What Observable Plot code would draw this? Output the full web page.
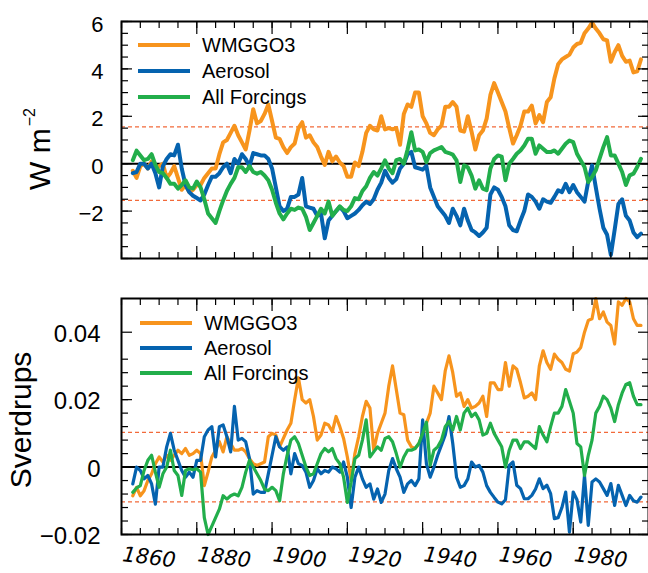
<!DOCTYPE html>
<html>
<head>
<meta charset="utf-8">
<script src="https://cdn.jsdelivr.net/npm/d3@7"></script>
<script src="https://cdn.jsdelivr.net/npm/@observablehq/plot@0.6"></script>
<style>
  body { margin: 0; background: #fff; font-family: "Liberation Sans", Arial, Helvetica, sans-serif; }
  #wrap { position: relative; width: 648px; height: 573px; overflow: hidden; }
  #wrap svg { display: block; }
  .row { position: absolute; display: flex; align-items: center; white-space: nowrap; font-size: 20px; color: #000; height: 26px; }
  .swatch { width: 52px; height: 4px; }
  .ylab { position: absolute; font-size: 30px; line-height: 1; white-space: nowrap; transform: translate(-50%, -50%) rotate(-90deg); color: #000; }
  .ylab sup { font-size: 16px; position: relative; top: -0.2em; vertical-align: top; margin-left: 2px; }
</style>
</head>
<body>
<div id="wrap"></div>
<script>
// ---------- data ----------
const years = d3.range(1853, 1989);
const seriesNames = ["WMGGO3", "Aerosol", "All Forcings"];
const seriesColors = ["#F7941D", "#0563AF", "#22AE4B"];

// Top panel: W m^-2
const topWMGGO3 = [
  -0.3,-0.6,-0.1,0.0,-0.2,0.1,-0.3,
  -0.1,0.0,-0.6,-0.4,-0.1,-0.6,-1.1,-0.9,-1.2,-1.1,
  -0.9,-0.9,-0.6,-0.4,-0.2,-0.2,0.4,0.9,1.0,1.3,
  1.6,1.2,0.9,0.6,1.4,2.3,1.7,1.8,2.1,2.5,
  1.8,1.1,1.05,0.7,0.45,0.7,0.85,1.5,1.75,1.1,
  1.2,0.9,0.7,0.3,-0.05,0.5,0.1,0.3,0.05,-0.1,
  -0.55,-0.55,0.05,-0.1,0.5,1.3,1.6,1.45,1.4,2.0,
  1.45,1.5,1.45,1.5,0.8,2.1,2.5,2.4,3.0,3.0,
  2.0,1.7,1.3,1.2,1.45,1.6,2.4,2.4,2.6,2.4,
  1.4,1.35,2.0,1.35,0.6,1.2,1.4,1.9,2.9,3.4,
  3.0,2.6,2.2,1.5,0.85,1.2,1.6,2.2,2.2,2.45,
  1.7,2.05,1.75,2.6,2.8,3.6,4.2,4.4,4.5,4.6,
  4.9,5.05,5.1,5.5,5.7,5.95,5.7,5.5,5.25,5.2,
  4.3,4.7,5.0,4.55,4.3,4.35,3.85,3.9,4.4
];
const topAerosol = [
  -0.4,-0.35,0.0,0.0,-0.2,0.0,-0.4,
  -1.0,-0.1,0.2,0.4,0.35,0.8,-0.2,-0.9,-1.2,-1.35,
  -1.45,-1.55,-1.3,-0.9,-0.55,-0.55,-0.4,-0.15,0.0,-0.4,
  0.2,0.0,0.4,0.2,-0.1,0.45,0.4,0.35,0.35,0.2,
  -0.2,-1.0,-1.8,-2.0,-1.9,-1.4,-1.4,-1.3,-0.6,-1.8,
  -1.85,-1.9,-2.2,-2.1,-3.15,-2.4,-2.2,-2.0,-1.82,-2.0,
  -2.3,-2.2,-2.1,-1.95,-1.75,-1.6,-1.7,-1.5,-1.1,-0.8,
  -0.3,-0.6,-0.8,-0.65,-0.2,0.0,0.4,0.5,-0.15,-0.2,
  -0.25,-0.1,-1.0,-1.4,-1.8,-2.0,-2.2,-2.5,-1.9,-2.2,
  -2.6,-1.9,-2.4,-2.8,-2.9,-3.05,-2.9,-2.7,-1.3,-1.0,
  -1.1,-1.4,-1.8,-2.6,-2.8,-2.85,-2.4,-2.0,-1.3,-1.4,
  -1.6,-1.9,-1.5,-1.6,-1.65,-1.4,-1.12,-1.2,-0.85,-1.2,
  -0.9,-1.2,-1.4,-1.6,-0.75,-0.07,-1.0,-1.9,-2.7,-3.0,
  -3.85,-2.8,-1.7,-1.5,-2.2,-2.4,-2.9,-3.1,-2.95
];
const topAllForcings = [
  0.15,0.55,0.35,0.15,0.2,0.4,-0.05,
  -0.35,-0.4,-0.6,-0.85,-0.85,-1.05,-0.9,-0.7,-1.0,-1.05,
  -0.75,-1.0,-1.5,-2.1,-2.3,-2.5,-2.0,-1.55,-1.15,-0.85,
  -0.6,-0.15,-0.15,-0.35,-0.1,-0.35,-0.42,-0.35,-0.5,-0.7,
  -1.1,-1.65,-2.1,-2.35,-2.1,-1.9,-1.95,-1.85,-1.9,-2.24,
  -2.8,-2.5,-2.2,-1.9,-2.1,-1.6,-2.2,-2.0,-1.8,-1.95,
  -2.0,-1.8,-1.45,-1.5,-1.15,-0.95,-0.6,-0.35,-0.5,-0.2,
  0.14,-0.2,-0.4,0.15,0.2,0.0,0.6,1.33,0.56,0.6,
  0.5,0.07,0.45,0.56,0.63,0.7,0.5,0.45,0.38,0.14,
  -0.77,-0.07,-0.15,-0.5,-1.05,-0.7,-1.05,-1.12,-0.2,0.2,
  0.35,0.3,-0.7,0.0,0.2,0.42,0.56,0.77,1.05,1.05,
  0.42,0.77,0.63,0.49,0.49,0.56,0.42,0.63,0.84,0.98,
  0.91,0.42,0.14,-0.14,-0.77,-0.56,-0.28,0.21,0.7,1.12,
  0.35,0.35,0.0,-0.35,-0.9,-0.49,-0.42,-0.14,0.21
];

// Bottom panel: Sverdrups
const botWMGGO3 = [
  -0.0085,-0.006,-0.0085,-0.007,-0.004,-0.002,0.001,
  0.003,0.0015,0.0035,0.002,0.0035,0.005,0.004,0.0055,0.0035,0.004,
  0.005,0.004,-0.0055,-0.0015,0.003,0.005,0.0075,0.0045,0.009,0.007,
  0.005,0.005,0.0055,0.0045,0.0025,0.001,0.0005,0.001,0.0015,0.009,
  0.010,0.0095,0.006,0.0085,0.011,0.013,0.020,0.0265,0.020,0.019,
  0.020,0.015,0.008,0.0095,0.013,0.0125,0.0105,0.015,0.012,0.0085,
  0.003,-0.004,0.004,0.009,0.015,0.0195,0.0175,0.005,0.010,0.013,
  0.016,0.024,0.030,0.023,0.016,0.0155,0.008,0.006,0.0055,0.007,
  0.010,0.013,0.016,0.024,0.022,0.020,0.0285,0.033,0.028,0.021,
  0.022,0.018,0.020,0.0175,0.018,0.019,0.021,0.015,0.025,0.025,
  0.023,0.023,0.031,0.024,0.030,0.029,0.025,0.0205,0.021,0.022,
  0.020,0.030,0.0345,0.031,0.029,0.0335,0.032,0.031,0.029,0.0285,
  0.0336,0.0341,0.0355,0.040,0.0435,0.044,0.050,0.044,0.046,0.043,
  0.042,0.0365,0.049,0.048,0.050,0.049,0.044,0.042,0.042
];
const botAerosol = [
  -0.005,0.0,-0.001,-0.0035,-0.0025,-0.005,-0.011,
  0.0,0.0,0.006,0.010,0.005,0.002,-0.001,-0.003,-0.0015,-0.003,
  0.002,0.002,0.009,0.011,0.012,0.003,0.012,0.0125,0.009,0.0045,
  0.018,0.008,0.0085,0.0075,0.0025,-0.008,-0.007,-0.0075,-0.0075,-0.002,
  0.0035,0.009,0.006,0.005,0.006,-0.002,0.004,0.001,0.0005,-0.0015,
  -0.006,-0.004,-0.0005,-0.002,-0.001,-0.0015,0.0,-0.0005,-0.0015,0.0015,
  -0.003,-0.012,-0.003,0.0,-0.0035,-0.006,-0.005,-0.0095,-0.0065,-0.0105,
  -0.008,-0.001,0.0025,-0.0005,-0.003,-0.0075,-0.005,-0.004,-0.0055,-0.0035,
  0.014,0.001,-0.003,0.0,0.0035,0.0065,0.0095,0.015,0.007,-0.003,
  -0.006,-0.0055,-0.0035,0.0015,0.0,0.0005,-0.0015,-0.0055,-0.0075,-0.009,
  -0.0104,-0.0109,-0.0097,0.0005,0.0015,-0.0054,-0.0064,-0.0094,-0.0094,-0.0084,
  -0.0065,-0.0035,-0.0064,-0.0054,-0.0079,-0.0153,-0.015,-0.012,-0.0074,-0.0193,
  -0.0074,-0.0097,-0.0163,-0.0025,-0.0173,-0.0044,-0.0035,-0.0044,-0.0064,-0.0084,
  -0.0049,-0.0114,-0.0054,-0.0084,-0.0114,-0.0084,-0.010,-0.0104,-0.0089
];
const botAllForcings = [
  -0.0075,-0.0062,-0.0055,-0.001,0.002,0.0035,-0.0015,
  -0.006,-0.002,0.0,0.005,-0.001,-0.0025,-0.0084,-0.001,-0.0005,-0.0008,
  -0.0005,-0.0015,-0.015,-0.020,-0.0175,-0.015,-0.0125,-0.0085,-0.0095,-0.0085,
  -0.008,-0.0085,-0.006,-0.0015,0.002,0.0,-0.002,-0.004,-0.0065,-0.007,
  -0.006,-0.007,-0.010,-0.002,0.0035,0.008,0.009,0.007,0.0035,0.0,
  -0.0025,-0.002,0.001,0.004,0.0055,0.0045,0.0055,0.0025,0.001,-0.003,
  -0.0105,-0.0045,0.0025,0.0035,0.008,0.014,0.003,0.0045,0.006,0.005,
  0.0085,0.009,0.0075,0.004,0.0,0.003,0.005,0.005,0.0055,0.007,
  0.010,0.0133,0.0005,0.005,0.006,0.008,0.012,0.0135,0.011,0.015,
  0.011,0.016,0.0175,0.015,0.016,0.014,0.0095,0.010,0.013,0.010,
  0.008,0.006,0.0,0.005,0.008,0.008,0.0055,0.0075,0.0075,0.0065,
  0.0055,0.012,0.0095,0.0075,0.012,0.016,0.016,0.018,0.023,0.0195,
  0.016,0.007,0.006,-0.0025,0.0035,0.008,0.016,0.018,0.021,0.020,
  0.0175,0.0135,0.0185,0.022,0.0245,0.025,0.021,0.0185,0.0185
];

// tick values and labels
const xDomain = [1850, 1990];
const xMinorTicks = d3.range(1850, 1991, 5);
const xMajorTicks = d3.range(1870, 1990, 20);
const xTickLabels = [1860, 1880, 1900, 1920, 1940, 1960, 1980];

const topYDomain = [-4, 6];
const topYMinor = d3.range(-4, 6.001, 0.5);
const topYMajor = [-4, -2, 0, 2, 4, 6];
const topYLabels = [-2, 0, 2, 4, 6];
const topThresholds = [1.55, -1.55];

const botYDomain = [-0.02, 0.05];
const botYMinor = d3.range(0, 14).map(i => -0.02 + i * 0.004);
const botYMajor = [-0.02, 0, 0.02, 0.04];
const botYLabels = [-0.02, 0, 0.02, 0.04];
const botThresholds = [0.0103, -0.0103];

// ---------- drawing ----------
const rows = vals => years.map((year, i) => ({year, value: vals[i]}));
const minus = s => s.replace("-", "\u2212");

function tickMarks(k, anchor, values, size) {
  const axis = k === "x" ? Plot.axisX : Plot.axisY;
  return axis(values, {anchor, tickSize: -size, fill: "none", label: null, stroke: "black", strokeWidth: 1.2});
}

function panel(o) {
  const marks = [
    Plot.ruleY(o.thresholds, {stroke: "#F26A3A", strokeWidth: 1.2, strokeDasharray: "4,3"}),
    Plot.ruleY([0], {stroke: "black", strokeWidth: 2}),
    ...o.series.map((vals, i) => Plot.line(rows(vals), {
      x: "year", y: "value", stroke: seriesColors[i], strokeWidth: o.lineWidth,
      strokeLinejoin: "round", strokeLinecap: "round"
    })),
    tickMarks("x", "bottom", xMinorTicks, 6),
    tickMarks("x", "bottom", xMajorTicks, 12),
    tickMarks("x", "top", xMinorTicks, 6),
    tickMarks("x", "top", xMajorTicks, 12),
    tickMarks("y", "left", o.yMinor, 7),
    tickMarks("y", "left", o.yMajor, 11),
    tickMarks("y", "right", o.yMinor, 7),
    tickMarks("y", "right", o.yMajor, 11),
    Plot.axisY(o.yLabels, {
      anchor: "left", tickSize: 0, tickPadding: o.labelPadding, fontSize: o.labelSize,
      tickFormat: o.format, dy: o.labelDy, label: null, fill: "black"
    }),
    Plot.frame({stroke: "black", strokeWidth: 2})
  ];
  if (o.xLabels) {
    marks.push(Plot.text(xTickLabels, {
      x: d => d, text: d => String(d), frameAnchor: "bottom", dy: 23, dx: -10,
      rotate: 7, fontStyle: "italic", fontSize: 21, fontFamily: '"DejaVu Sans", sans-serif',
      lineAnchor: "middle", fill: "black"
    }));
  }
  return Plot.plot({
    width: 648, height: o.height, marginTop: o.marginTop, marginBottom: o.marginBottom,
    marginLeft: 121, marginRight: 0,
    x: {domain: xDomain},
    y: {domain: o.yDomain},
    style: {fontFamily: '"Liberation Sans", Arial, Helvetica, sans-serif', background: "white", overflow: "visible", color: "black"},
    marks
  });
}

const wrap = document.getElementById("wrap");

wrap.append(panel({
  height: 275, marginTop: 21, marginBottom: 17,
  yDomain: topYDomain, yMinor: topYMinor, yMajor: topYMajor, yLabels: topYLabels,
  format: d => minus(String(d)), labelSize: 22, labelPadding: 18, labelDy: 3,
  thresholds: topThresholds, series: [topWMGGO3, topAerosol, topAllForcings], lineWidth: 4,
  xLabels: false
}));

wrap.append(panel({
  height: 298, marginTop: 23, marginBottom: 39,
  yDomain: botYDomain, yMinor: botYMinor, yMajor: botYMajor, yLabels: botYLabels,
  format: d => d === 0 ? "0" : minus(d.toFixed(2)), labelSize: 24, labelPadding: 21, labelDy: 2,
  thresholds: botThresholds, series: [botWMGGO3, botAerosol, botAllForcings], lineWidth: 3.2,
  xLabels: true
}));

// legends
function legend(left, centers) {
  seriesNames.forEach((name, i) => {
    const row = document.createElement("div");
    row.className = "row";
    row.style.left = left + "px";
    row.style.top = (centers[i] - 13) + "px";
    const sw = document.createElement("div");
    sw.className = "swatch";
    sw.style.background = seriesColors[i];
    sw.style.marginRight = "12px";
    const tx = document.createElement("span");
    tx.textContent = name;
    row.append(sw, tx);
    wrap.append(row);
  });
}
legend(138, [45, 71, 97]);
legend(140, [323, 348, 373]);

// y-axis titles
const yl1 = document.createElement("div");
yl1.className = "ylab";
yl1.style.left = "40px"; yl1.style.top = "149px";
yl1.innerHTML = "W m<sup>\u22122</sup>";
wrap.append(yl1);

const yl2 = document.createElement("div");
yl2.className = "ylab";
yl2.style.left = "21px"; yl2.style.top = "420px";
yl2.textContent = "Sverdrups";
wrap.append(yl2);
</script>
</body>
</html>
